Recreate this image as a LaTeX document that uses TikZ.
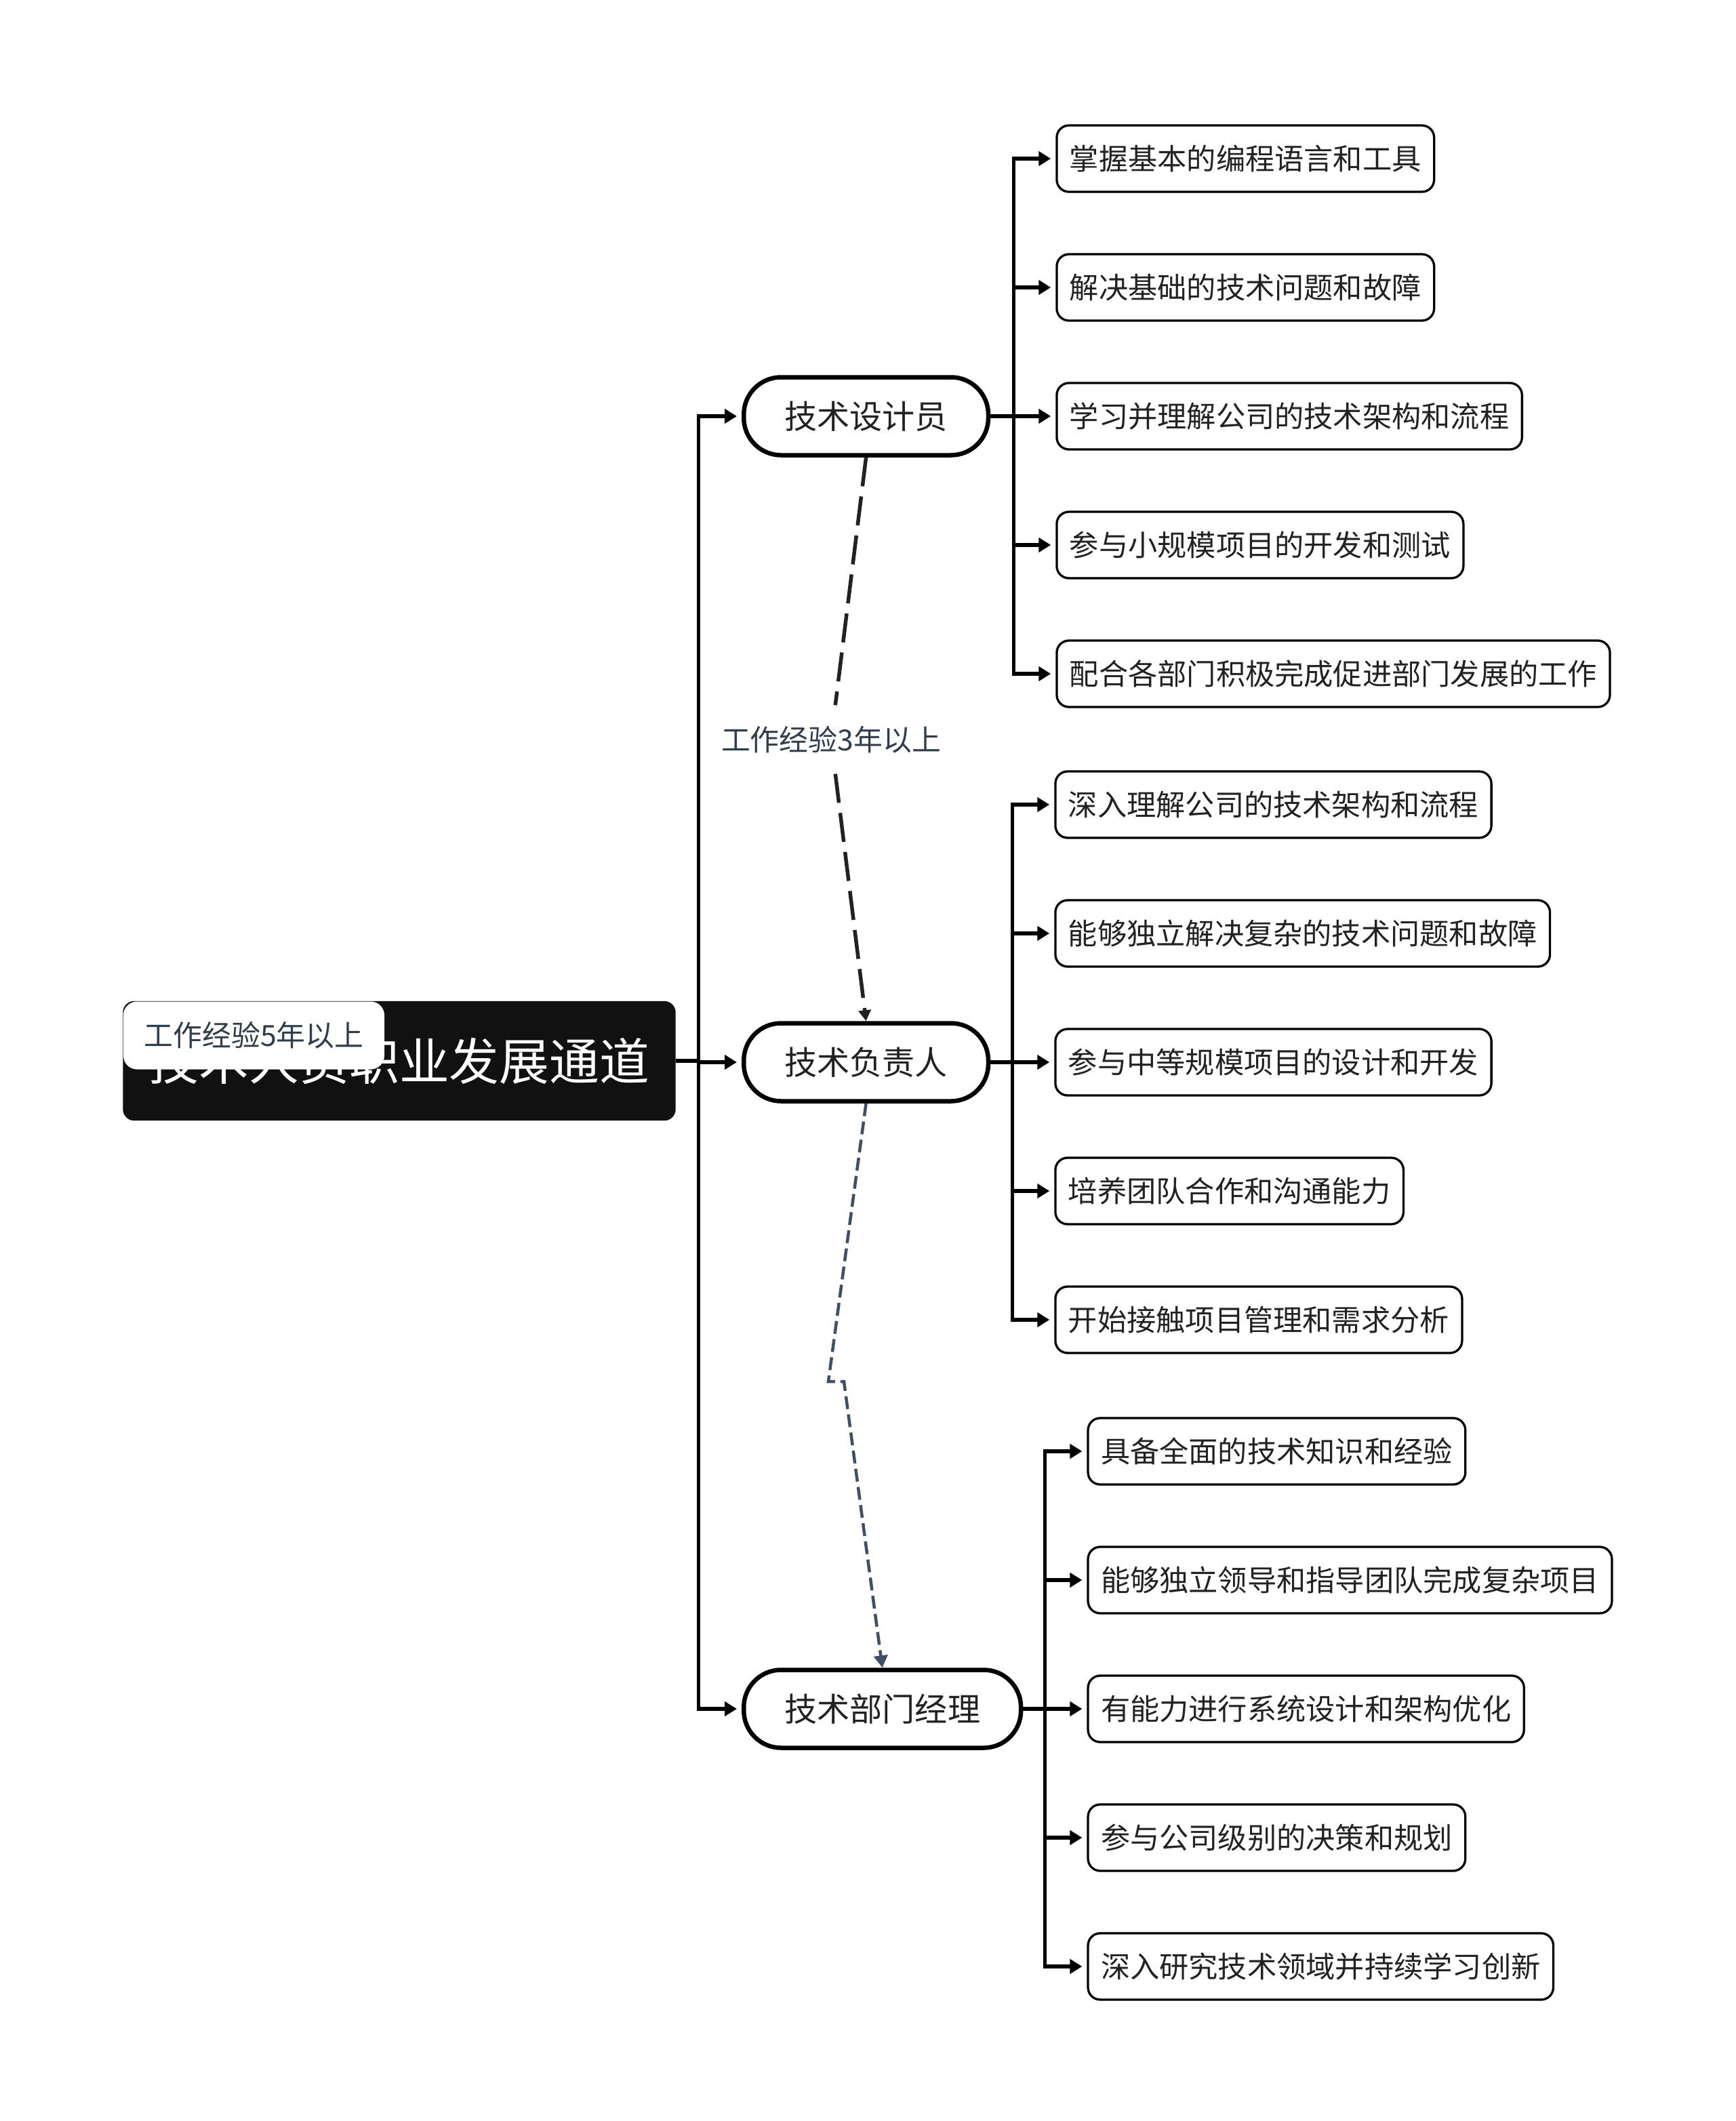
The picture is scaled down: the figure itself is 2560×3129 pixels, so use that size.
\documentclass[tikz,border=0pt]{standalone}
\usepackage{fontspec}
\usepackage{xcolor}
\usepackage{tikz}
\usetikzlibrary{arrows.meta, positioning}
\newfontfamily\cjk{Noto Sans CJK SC}
\definecolor{inkdark}{HTML}{222222}
\definecolor{slate}{HTML}{2F3E4E}
\definecolor{flowblue}{HTML}{3E5068}
\definecolor{hubfill}{HTML}{111111}

\begin{document}
\begin{tikzpicture}[x=0.1mm, y=-0.1mm, node distance=19mm, font=\cjk]
\tikzstyle{hub} = [rectangle, fill=hubfill, draw=hubfill, text=white, rounded corners=1.6mm, minimum width=81.4mm, minimum height=17.5mm, font=\cjk\fontsize{21pt}{24pt}\selectfont]
\tikzstyle{note} = [rectangle, fill=white, text=slate, rounded corners=2mm, minimum width=38.5mm, minimum height=10mm, font=\cjk\fontsize{12.2pt}{14pt}\selectfont]
\tikzstyle{role} = [rectangle, draw=black, line width=0.65mm, fill=white, text=inkdark, rounded corners=5.5mm, inner xsep=6mm, minimum height=11.5mm, font=\cjk\fontsize{13.7pt}{16pt}\selectfont]
\tikzstyle{task} = [rectangle, draw=black, line width=0.33mm, fill=white, text=inkdark, rounded corners=1.8mm, inner xsep=1.9mm, minimum height=9.8mm, font=\cjk\fontsize{12.3pt}{14pt}\selectfont]
\tikzstyle{tag} = [text=slate, inner xsep=1mm, inner ysep=3mm, font=\cjk\fontsize{12.2pt}{14pt}\selectfont]
\tikzstyle{line} = [draw, line width=0.55mm, shorten >=0.7mm, -{Triangle[length=1.8mm, width=2.1mm]}]
\tikzstyle{wire} = [draw, line width=0.55mm]
\tikzstyle{promo} = [draw=inkdark, line width=0.55mm, dash pattern=on 4.3mm off 1.5mm, -{Triangle[length=1.6mm, width=1.8mm]}]
\tikzstyle{promob} = [draw=flowblue, line width=0.45mm, dash pattern=on 1.9mm off 0.8mm, -{Triangle[length=1.8mm, width=2mm]}]
\useasboundingbox (0,0) rectangle (2560,3129);
\node [hub] (hub) at (589,1565) {技术人员职业发展通道};
\node [note, anchor=north west] (note) at (hub.north west) {工作经验5年以上};
\node [role, anchor=west] (des) at (1094,614) {技术设计员};
\node [role, below=95.3mm of des.west, anchor=west] (lead) {技术负责人};
\node [role, below=95.4mm of lead.west, anchor=west] (mgr) {技术部门经理};
% designer tasks
\node [task, right=9.6mm of des.east] (d3) {学习并理解公司的技术架构和流程};
\node [task, above=19mm of d3.west, anchor=west] (d2) {解决基础的技术问题和故障};
\node [task, above=19mm of d2.west, anchor=west] (d1) {掌握基本的编程语言和工具};
\node [task, below=19mm of d3.west, anchor=west] (d4) {参与小规模项目的开发和测试};
\node [task, below=19mm of d4.west, anchor=west] (d5) {配合各部门积极完成促进部门发展的工作};
% lead tasks
\node [task, right=9.4mm of lead.east] (l3) {参与中等规模项目的设计和开发};
\node [task, above=19mm of l3.west, anchor=west] (l2) {能够独立解决复杂的技术问题和故障};
\node [task, above=19mm of l2.west, anchor=west] (l1) {深入理解公司的技术架构和流程};
\node [task, below=19mm of l3.west, anchor=west] (l4) {培养团队合作和沟通能力};
\node [task, below=19mm of l4.west, anchor=west] (l5) {开始接触项目管理和需求分析};
% manager tasks
\node [task, right=9.4mm of mgr.east] (m3) {有能力进行系统设计和架构优化};
\node [task, above=19mm of m3.west, anchor=west] (m2) {能够独立领导和指导团队完成复杂项目};
\node [task, above=19mm of m2.west, anchor=west] (m1) {具备全面的技术知识和经验};
\node [task, below=19mm of m3.west, anchor=west] (m4) {参与公司级别的决策和规划};
\node [task, below=19mm of m4.west, anchor=west] (m5) {深入研究技术领域并持续学习创新};
% trunk
\coordinate [right=3.4mm of hub.east] (trunk);
\path [wire] (hub.east) -- (trunk);
\path [line] (trunk) |- (des.west);
\path [line] (trunk) |- (lead.west);
\path [line] (trunk) |- (mgr.west);
% branches
\coordinate [right=3.4mm of des.east] (j1);
\path [wire] (des.east) -- (j1);
\path [line] (j1) |- (d1.west);
\path [line] (j1) |- (d2.west);
\path [line] (j1) |- (d3.west);
\path [line] (j1) |- (d4.west);
\path [line] (j1) |- (d5.west);
\coordinate [right=3.2mm of lead.east] (j2);
\path [wire] (lead.east) -- (j2);
\path [line] (j2) |- (l1.west);
\path [line] (j2) |- (l2.west);
\path [line] (j2) |- (l3.west);
\path [line] (j2) |- (l4.west);
\path [line] (j2) |- (l5.west);
\coordinate [right=3.2mm of mgr.east] (j3);
\path [wire] (mgr.east) -- (j3);
\path [line] (j3) |- (m1.west);
\path [line] (j3) |- (m2.west);
\path [line] (j3) |- (m3.west);
\path [line] (j3) |- (m4.west);
\path [line] (j3) |- (m5.west);
% promotions
\node [tag] (exp3) at (1226,1091) {工作经验3年以上};
\path [promo] (des.south) -- (exp3) -- (lead.north);
\coordinate (kink) at (1222,2038);
\path [promob] (lead.south) -- (kink) -- ++(23,0) -- (mgr.north);
\end{tikzpicture}
\end{document}
